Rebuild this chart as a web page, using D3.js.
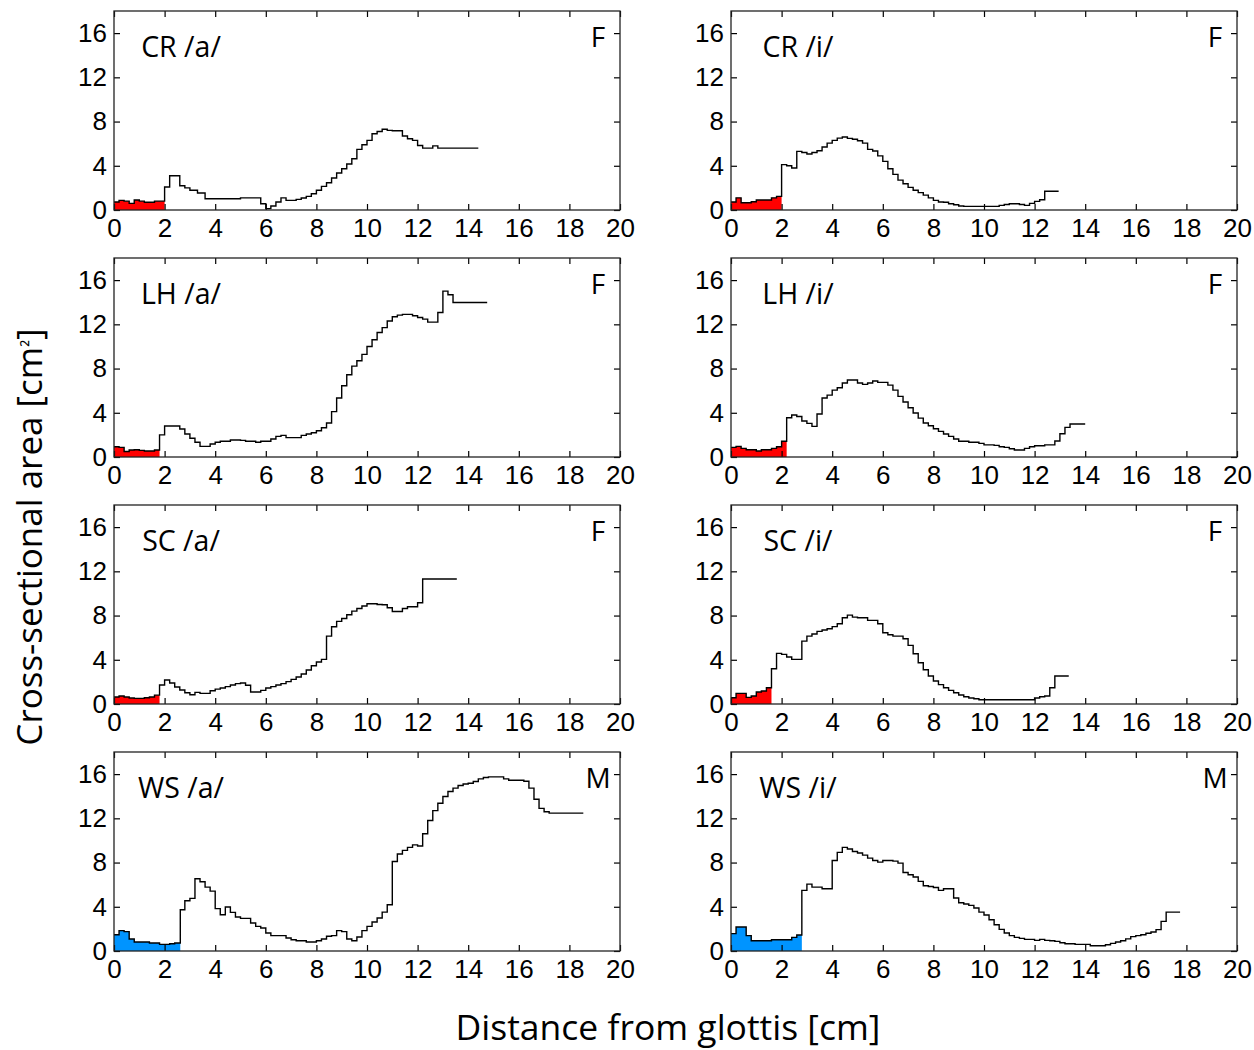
<!DOCTYPE html>
<html>
<head>
<meta charset="utf-8">
<script src="https://cdn.jsdelivr.net/npm/d3@7"></script>
<style>
  html, body { margin: 0; padding: 0; background: #fff; }
  svg { display: block; }
  .tick text { font-family: "Liberation Sans", Arial, sans-serif; font-size: 26px; fill: #000; }
  .tick line { stroke: #000; stroke-width: 1.2; }
</style>
</head>
<body>
<svg id="chart" width="1254" height="1050"></svg>
<script>
// ---- data: [step start (cm), cross-sectional area (cm²)] ----
const crA = [[0,0.72],[0.2,0.87],[0.4,0.8],[0.6,0.6],[0.8,0.9],[1.0,0.8],[1.2,0.7],[1.6,0.8],[2.0,2.08],[2.2,3.1],[2.6,2.2],[2.8,2.0],[3.0,1.78],[3.3,1.54],[3.6,1.02],[5.0,1.1],[5.8,0.57],[6.0,0.12],[6.2,0.36],[6.4,0.72],[6.6,1.1],[6.8,0.87],[7.2,0.96],[7.4,1.08],[7.6,1.23],[7.8,1.47],[8.0,1.78],[8.2,2.14],[8.4,2.47],[8.6,2.9],[8.8,3.34],[9.0,3.73],[9.2,4.16],[9.4,4.64],[9.6,5.48],[9.8,5.9],[10.0,6.3],[10.2,6.9],[10.4,7.1],[10.6,7.3],[10.8,7.2],[11.0,7.17],[11.4,6.7],[11.6,6.45],[11.8,6.3],[12.0,5.84],[12.2,5.6],[12.6,5.8],[12.8,5.6]];
const crI = [[0,0.72],[0.2,1.1],[0.4,0.66],[0.8,0.75],[1.0,0.9],[1.6,1.1],[1.8,1.23],[2.0,4.1],[2.2,4.0],[2.4,3.8],[2.6,5.3],[2.8,5.2],[3.0,5.06],[3.2,5.2],[3.4,5.36],[3.6,5.7],[3.8,6.05],[4.0,6.3],[4.2,6.5],[4.4,6.6],[4.6,6.48],[4.8,6.4],[5.0,6.27],[5.2,6.05],[5.4,5.48],[5.6,5.33],[5.8,4.9],[6.0,4.4],[6.2,3.73],[6.4,3.22],[6.6,2.7],[6.8,2.38],[7.0,2.05],[7.2,1.78],[7.4,1.57],[7.6,1.35],[7.8,1.1],[8.0,0.87],[8.2,0.72],[8.4,0.7],[8.6,0.57],[8.8,0.48],[9.0,0.36],[9.2,0.33],[10.6,0.42],[10.8,0.5],[11.0,0.57],[11.4,0.5],[11.6,0.42],[11.8,0.6],[12.0,0.78],[12.2,0.93],[12.4,1.7]];
const lhA = [[0,0.93],[0.2,0.87],[0.4,0.5],[0.6,0.63],[0.8,0.66],[1.0,0.6],[1.2,0.54],[1.6,0.63],[1.8,2.0],[2.0,2.8],[2.6,2.53],[2.8,2.08],[3.0,1.7],[3.2,1.33],[3.4,0.96],[3.8,1.17],[4.0,1.33],[4.2,1.42],[4.6,1.54],[5.0,1.5],[5.2,1.42],[5.6,1.33],[5.8,1.42],[6.2,1.63],[6.4,1.87],[6.6,1.96],[6.8,1.75],[7.4,1.96],[7.6,2.08],[7.8,2.2],[8.0,2.38],[8.2,2.65],[8.4,3.07],[8.6,4.1],[8.8,5.33],[9.0,6.45],[9.2,7.44],[9.4,8.22],[9.6,8.7],[9.8,9.28],[10.0,10.0],[10.2,10.6],[10.4,11.26],[10.6,11.7],[10.8,12.3],[11.0,12.68],[11.2,12.83],[11.4,12.9],[11.8,12.77],[12.0,12.62],[12.2,12.47],[12.4,12.2],[12.8,13.07],[13.0,15.0],[13.2,14.67],[13.4,13.98]];
const lhI = [[0,0.87],[0.2,0.96],[0.4,0.78],[0.6,0.66],[1.0,0.54],[1.2,0.66],[1.6,0.78],[1.8,0.93],[2.0,1.42],[2.2,3.55],[2.4,3.8],[2.6,3.67],[2.8,3.25],[3.0,3.04],[3.2,2.77],[3.4,3.89],[3.6,5.33],[3.8,5.6],[4.0,6.05],[4.2,6.27],[4.4,6.69],[4.6,6.96],[5.0,6.7],[5.2,6.57],[5.4,6.7],[5.6,6.87],[5.8,6.75],[6.2,6.5],[6.4,6.05],[6.6,5.48],[6.8,4.97],[7.0,4.46],[7.2,3.98],[7.4,3.52],[7.6,3.07],[7.8,2.83],[8.0,2.56],[8.2,2.32],[8.4,2.08],[8.6,1.87],[8.8,1.63],[9.0,1.42],[9.4,1.33],[9.8,1.23],[10.0,1.1],[10.4,1.05],[10.6,0.93],[10.8,0.87],[11.0,0.75],[11.2,0.63],[11.6,0.78],[11.8,0.93],[12.0,1.02],[12.4,1.1],[12.8,1.45],[13.0,2.1],[13.2,2.68],[13.4,2.98]];
const scA = [[0,0.63],[0.2,0.72],[0.4,0.63],[0.6,0.54],[0.8,0.51],[1.2,0.57],[1.4,0.63],[1.6,0.8],[1.8,1.72],[2.0,2.17],[2.2,1.9],[2.4,1.54],[2.6,1.27],[2.8,1.02],[3.0,0.84],[3.2,1.05],[3.4,0.96],[3.8,1.2],[4.0,1.35],[4.2,1.45],[4.4,1.57],[4.6,1.72],[4.8,1.84],[5.0,1.9],[5.2,1.69],[5.4,1.08],[5.8,1.23],[6.0,1.45],[6.2,1.57],[6.4,1.72],[6.6,1.84],[6.8,2.02],[7.0,2.23],[7.2,2.44],[7.4,2.71],[7.6,3.07],[7.8,3.46],[8.0,3.8],[8.2,4.04],[8.4,6.14],[8.6,6.99],[8.8,7.47],[9.0,7.74],[9.2,8.07],[9.4,8.4],[9.6,8.64],[9.8,8.86],[10.0,9.07],[10.4,9.0],[10.6,8.98],[10.8,8.7],[11.0,8.37],[11.4,8.64],[11.6,8.8],[12.0,9.16],[12.2,11.3]];
const scI = [[0,0.57],[0.2,0.96],[0.6,0.6],[0.8,0.72],[1.0,1.08],[1.2,1.17],[1.4,1.47],[1.6,3.19],[1.8,4.58],[2.0,4.49],[2.2,4.25],[2.4,4.04],[2.8,5.69],[3.0,6.14],[3.2,6.33],[3.4,6.57],[3.6,6.69],[3.8,6.81],[4.0,7.0],[4.2,7.26],[4.4,7.8],[4.6,8.04],[4.8,7.86],[5.0,7.8],[5.4,7.56],[5.8,7.26],[6.0,6.45],[6.2,6.27],[6.4,6.14],[6.8,5.9],[7.0,5.3],[7.2,4.55],[7.4,3.73],[7.6,3.1],[7.8,2.53],[8.0,2.08],[8.2,1.75],[8.4,1.47],[8.6,1.23],[8.8,1.02],[9.0,0.81],[9.2,0.66],[9.4,0.54],[9.6,0.48],[9.8,0.39],[12.0,0.54],[12.2,0.66],[12.4,0.72],[12.6,1.47],[12.8,2.53]];
const wsA = [[0,1.47],[0.2,1.84],[0.4,1.75],[0.6,1.08],[0.8,0.81],[1.4,0.72],[1.8,0.6],[2.2,0.66],[2.4,0.72],[2.62,3.73],[2.8,4.55],[3.0,4.76],[3.2,6.54],[3.4,6.27],[3.6,5.78],[3.8,5.42],[4.0,3.83],[4.2,3.28],[4.4,3.98],[4.6,3.49],[4.8,3.07],[5.0,2.95],[5.4,2.53],[5.6,2.23],[5.8,2.08],[6.0,1.63],[6.2,1.39],[6.8,1.17],[7.0,1.02],[7.2,0.93],[7.6,0.81],[8.0,0.93],[8.2,1.08],[8.4,1.33],[8.6,1.39],[8.8,1.84],[9.0,1.75],[9.2,1.08],[9.4,0.93],[9.6,1.27],[9.8,1.84],[10.0,2.23],[10.2,2.62],[10.4,2.98],[10.6,3.52],[10.8,4.19],[11.0,8.1],[11.2,8.77],[11.4,9.1],[11.6,9.37],[11.8,9.6],[12.0,9.5],[12.2,10.6],[12.4,11.8],[12.6,12.7],[12.8,13.37],[13.0,13.98],[13.2,14.43],[13.4,14.73],[13.6,14.97],[13.8,15.1],[14.0,15.18],[14.2,15.33],[14.4,15.57],[14.6,15.7],[14.8,15.75],[15.4,15.57],[15.6,15.45],[16.2,15.36],[16.4,14.73],[16.6,13.73],[16.8,12.9],[17.0,12.6],[17.2,12.47]];
const wsI = [[0,1.57],[0.2,2.17],[0.6,1.39],[0.8,0.93],[1.6,1.02],[2.4,1.23],[2.6,1.45],[2.8,5.48],[3.0,6.05],[3.2,5.78],[3.6,5.63],[4.0,8.19],[4.2,8.92],[4.4,9.37],[4.6,9.22],[4.8,9.0],[5.0,8.86],[5.2,8.67],[5.4,8.4],[5.6,8.19],[5.8,8.04],[6.0,8.19],[6.4,8.13],[6.6,7.95],[6.8,7.1],[7.0,6.9],[7.2,6.69],[7.4,6.3],[7.6,5.9],[7.8,5.84],[8.0,5.75],[8.2,5.48],[8.4,5.63],[8.8,4.79],[9.0,4.37],[9.2,4.25],[9.4,4.13],[9.6,3.89],[9.8,3.52],[10.0,3.25],[10.2,2.83],[10.4,2.38],[10.6,1.96],[10.8,1.63],[11.0,1.39],[11.2,1.23],[11.4,1.14],[11.6,1.05],[12.0,0.96],[12.2,1.05],[12.4,0.96],[12.6,0.93],[12.8,0.87],[13.0,0.75],[13.2,0.66],[13.6,0.6],[14.2,0.48],[14.8,0.57],[15.0,0.69],[15.2,0.81],[15.4,0.93],[15.6,1.1],[15.8,1.3],[16.0,1.39],[16.2,1.47],[16.4,1.6],[16.6,1.72],[16.8,1.93],[17.0,2.68],[17.2,3.52]];

const panelSeries = [crA, crI, lhA, lhI, scA, scI, wsA, wsI];
const panelLabels = ["CR /a/", "CR /i/", "LH /a/", "LH /i/", "SC /a/", "SC /i/", "WS /a/", "WS /i/"];
const panelSex    = ["F", "F", "F", "F", "F", "F", "M", "M"];
const tractEnd    = [14.4, 12.95, 14.75, 14.0, 13.55, 13.35, 18.55, 17.75]; // cm
const glottalEnd  = [2.0, 2.0, 1.8, 2.2, 1.8, 1.6, 2.62, 2.8];             // cm (filled region)
const xTicks = [0, 2, 4, 6, 8, 10, 12, 14, 16, 18, 20];
const yTicks = [0, 4, 8, 12, 16];
const xDomain = [0, 20];
const yDomain = [0, 18];
const xTitle = "Distance from glottis [cm]";
const yTitleMain = "Cross-sectional area [cm";
const yTitleSup = "²";
const yTitleEnd = "]";

// ---- layout ----
const svg = d3.select("#chart");
const colLeft = [114, 731];
const plotW = 506;
const rowBottom = [210, 457, 704, 951];
const plotH = 199;
const fillColor = { F: "#ff0000", M: "#0094ff" };
const labelFont = "'Open Sans', 'Noto Sans', sans-serif";

panelSeries.forEach((series, i) => {
  const col = i % 2, row = Math.floor(i / 2);
  const x0 = colLeft[col], y0 = rowBottom[row];
  const x = d3.scaleLinear().domain(xDomain).range([x0, x0 + plotW]);
  const y = d3.scaleLinear().domain(yDomain).range([y0, y0 - plotH]);
  const g = svg.append("g");

  const last = series[series.length - 1];
  const linePts = series.concat([[tractEnd[i], last[1]]]);
  const fe = glottalEnd[i];
  const fillPts = series.filter(d => d[0] < fe);
  fillPts.push([fe, fillPts[fillPts.length - 1][1]]);

  g.append("path")
    .datum(fillPts)
    .attr("fill", fillColor[panelSex[i]])
    .attr("d", d3.area().curve(d3.curveStepAfter).x(d => x(d[0])).y0(y(0)).y1(d => y(d[1])));

  g.append("path")
    .datum(linePts)
    .attr("fill", "none")
    .attr("stroke", "#000")
    .attr("stroke-width", 1.4)
    .attr("d", d3.line().curve(d3.curveStepAfter).x(d => x(d[0])).y(d => y(d[1])));

  // axes with inward ticks on all four sides
  const ax = [
    g.append("g").attr("transform", `translate(0,${y0})`).call(d3.axisBottom(x).tickValues(xTicks).tickFormat(d3.format("d")).tickSize(-6).tickPadding(9)),
    g.append("g").attr("transform", `translate(0,${y0 - plotH})`).call(d3.axisTop(x).tickValues(xTicks).tickFormat("").tickSize(-6)),
    g.append("g").attr("transform", `translate(${x0},0)`).call(d3.axisLeft(y).tickValues(yTicks).tickFormat(d3.format("d")).tickSize(-6).tickPadding(7)),
    g.append("g").attr("transform", `translate(${x0 + plotW},0)`).call(d3.axisRight(y).tickValues(yTicks).tickFormat("").tickSize(-6))
  ];
  ax.forEach(a => a.select(".domain").remove());

  g.append("rect")
    .attr("x", x0).attr("y", y0 - plotH)
    .attr("width", plotW).attr("height", plotH)
    .attr("fill", "none").attr("stroke", "#222").attr("stroke-width", 1.3);

  g.append("text")
    .attr("x", x0 + 67).attr("y", y0 - plotH + 46)
    .attr("text-anchor", "middle")
    .style("font-family", labelFont)
    .style("font-size", "28.5px")
    .text(panelLabels[i]);

  g.append("text")
    .attr("x", x0 + plotW - 22).attr("y", y0 - plotH + 36)
    .attr("text-anchor", "middle")
    .style("font-family", labelFont)
    .style("font-size", "28px")
    .text(panelSex[i]);
});

svg.append("text")
  .attr("x", 668).attr("y", 1040)
  .attr("text-anchor", "middle")
  .style("font-family", labelFont)
  .style("font-size", "35.5px")
  .text(xTitle);

const yt = svg.append("text")
  .attr("transform", "translate(42,537) rotate(-90)")
  .attr("text-anchor", "middle")
  .style("font-family", labelFont)
  .style("font-size", "35px");
yt.append("tspan").text(yTitleMain);
yt.append("tspan").style("font-size", "20px").attr("dy", -4).text(yTitleSup);
yt.append("tspan").attr("dy", 4).text(yTitleEnd);
</script>
</body>
</html>
